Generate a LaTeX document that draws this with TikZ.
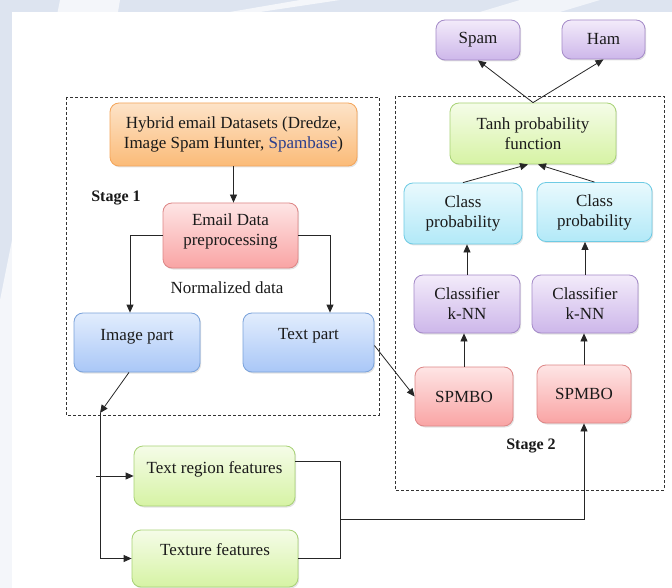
\documentclass[tikz,border=0pt]{standalone}
\usepackage{fontspec}
\setmainfont{Liberation Serif}
\usetikzlibrary{arrows.meta,shadows,calc}

\definecolor{orTop}{HTML}{FDE3C8}
\definecolor{orBot}{HTML}{FBBB78}
\definecolor{orLine}{HTML}{F4A55A}
\definecolor{rdTop}{HTML}{FEE5E5}
\definecolor{rdBot}{HTML}{F9A4A4}
\definecolor{rdLine}{HTML}{DD8686}
\definecolor{blTop}{HTML}{E2EDFD}
\definecolor{blBot}{HTML}{A9C7F7}
\definecolor{blLine}{HTML}{7AA2DA}
\definecolor{cyTop}{HTML}{E9F9FD}
\definecolor{cyBot}{HTML}{B2E9F8}
\definecolor{cyLine}{HTML}{6ECBE4}
\definecolor{grTop}{HTML}{F5FCE8}
\definecolor{grBot}{HTML}{D6F3A4}
\definecolor{grLine}{HTML}{A8D276}
\definecolor{puTop}{HTML}{F3EBFA}
\definecolor{puBot}{HTML}{CDB7EA}
\definecolor{puLine}{HTML}{A48AC8}
\definecolor{spamblue}{HTML}{2B3E8C}
\definecolor{markbg}{HTML}{DDE4F0}
\definecolor{ink}{HTML}{1A1A1A}

\tikzset{
  every node/.style={text=ink},
  box/.style={rounded corners=9pt, line width=0.8pt, align=center,
    font=\fontsize{17}{20}\selectfont, inner sep=2pt,
    drop shadow={opacity=0.22, shadow xshift=1.2pt, shadow yshift=-1.5pt}},
  orange box/.style={box, draw=orLine, top color=orTop, bottom color=orBot},
  red box/.style={box, draw=rdLine, top color=rdTop, bottom color=rdBot},
  blue box/.style={box, draw=blLine, top color=blTop, bottom color=blBot},
  cyan box/.style={box, draw=cyLine, top color=cyTop, bottom color=cyBot},
  green box/.style={box, draw=grLine, top color=grTop, bottom color=grBot},
  purple box/.style={box, draw=puLine, top color=puTop, bottom color=puBot},
  sz/.style 2 args={minimum width=#1pt, minimum height=#2pt},
  inner text/.style={font=\fontsize{17}{20}\selectfont, inner sep=0pt},
  stage/.style={font=\fontsize{16}{19}\selectfont\bfseries},
  plain/.style={font=\fontsize{17}{20}\selectfont},
  stagebox/.style={draw=black!80, line width=0.6pt, dash pattern=on 3pt off 2pt},
  wire/.style={draw=black!85, line width=0.8pt},
  arr/.style={wire, -{Triangle[length=8pt,width=7pt]}},
}

\begin{document}
\begin{tikzpicture}[x=1pt, y=-1pt]
  % page with faint banner strip along the top and left edges
  \useasboundingbox (0,0) rectangle (672,588);
  \fill[markbg] (0,0) rectangle (672,588);
  \fill[white, opacity=0.7] (60,0) -- (120,0) -- (20,588) -- (0,588) -- (0,300) -- cycle;
  \fill[white, opacity=0.7] (300,0) -- (340,0) -- (260,12) -- (230,12) -- cycle;
  \fill[white, opacity=0.6] (520,0) -- (600,0) -- (560,12) -- (480,12) -- cycle;
  \fill[white] (12,12) rectangle (672,588);

  % stage frames
  \draw[stagebox] (66,97) rectangle (379,415);
  \draw[stagebox] (395,96) rectangle (664,490);

  % stage 1
  \node[orange box, sz={247}{63}] (hyb) at (233.5,134.5)
    {Hybrid email Datasets (Dredze,\\Image Spam Hunter, \textcolor{spamblue}{Spambase})};
  \node[stage] (st1) at (116,198) {Stage 1};
  \node[red box, sz={135}{65}] (pre) at (230.5,235.5) {};
  \node[inner text, align=center] (preT) at (230.5,231.5) {Email Data\\preprocessing};
  \node[plain] (norm) at (227,288) {Normalized data};
  \node[blue box, sz={126}{59}] (img) at (137,342.5) {};
  \node[inner text] (imgT) at (137,337) {Image part};
  \node[blue box, sz={131}{59}] (txt) at (308.5,342.5) {};
  \node[inner text] (txtT) at (308.5,336) {Text part};

  % feature boxes
  \node[green box, sz={161}{60}] (trf) at (214.5,476) {};
  \node[inner text] (trfT) at (214.5,469) {Text region features};
  \node[green box, sz={166}{57}] (tex) at (215,558.5) {};
  \node[inner text] (texT) at (215,550) {Texture features};

  % stage 2
  \node[purple box, sz={84}{40}] (spam) at (478,40) {Spam};
  \node[purple box, sz={83}{39}] (ham) at (603.5,39.5) {Ham};
  \node[green box, sz={166}{61}] (tanh) at (533,133.5) {Tanh probability\\function};
  \node[cyan box, sz={118}{61}] (cp1) at (463,213.5) {Class\\probability};
  \node[cyan box, sz={115}{59}] (cp2) at (594.5,212) {Class\\probability};
  \node[purple box, sz={106}{58}] (cl1) at (467,304) {Classifier\\k-NN};
  \node[purple box, sz={106}{58}] (cl2) at (585,304) {Classifier\\k-NN};
  \node[red box, sz={98}{59}] (sp1) at (464,396.5) {SPMBO};
  \node[red box, sz={94}{58}] (sp2) at (584,394) {SPMBO};
  \node[stage] (st2) at (531,446) {Stage 2};

  % stage 1 flow
  \draw[arr] (hyb.south) -- (hyb.south |- pre.north);
  \draw[arr] (pre.west) -| ([xshift=-7pt]img.north);
  \draw[arr] (pre.east) -| ([xshift=21.5pt]txt.north);

  % image branch into the feature boxes
  \coordinate (split) at (100,413);
  \draw[arr] ([xshift=-8pt]img.south) -- (split);
  \draw[wire] (split) -- (split |- tex.west);
  \draw[arr] ([xshift=-4pt]split |- trf.west) -- (trf.west);
  \draw[arr] (split |- tex.west) -- (tex.west);

  % features merge into the second SPMBO
  \coordinate (merge) at (340,519);
  \draw[wire] ([yshift=15pt]trf.east) -| (merge);
  \draw[wire] (tex.east) -| (merge);
  \draw[arr] (merge) -| (sp2.south);

  % text branch
  \draw[arr] ([yshift=-3pt]txt.east) -- (sp1.west);

  % stage 2 flow
  \draw[arr] (sp1.north) -- (sp1.north |- cl1.south);
  \draw[arr] (sp2.north) -- (sp2.north |- cl2.south);
  \draw[arr] (cl1.north) -- (cl1.north |- cp1.south);
  \draw[arr] (cl2.north) -- (cl2.north |- cp2.south);
  \draw[arr] (cp1.north) -- ([xshift=-5pt]tanh.south);
  \draw[arr] (cp2.north) -- ([xshift=5pt]tanh.south);
  \draw[arr] (tanh.north) -- (spam.south);
  \draw[arr] (tanh.north) -- (ham.south);
\end{tikzpicture}
\end{document}
